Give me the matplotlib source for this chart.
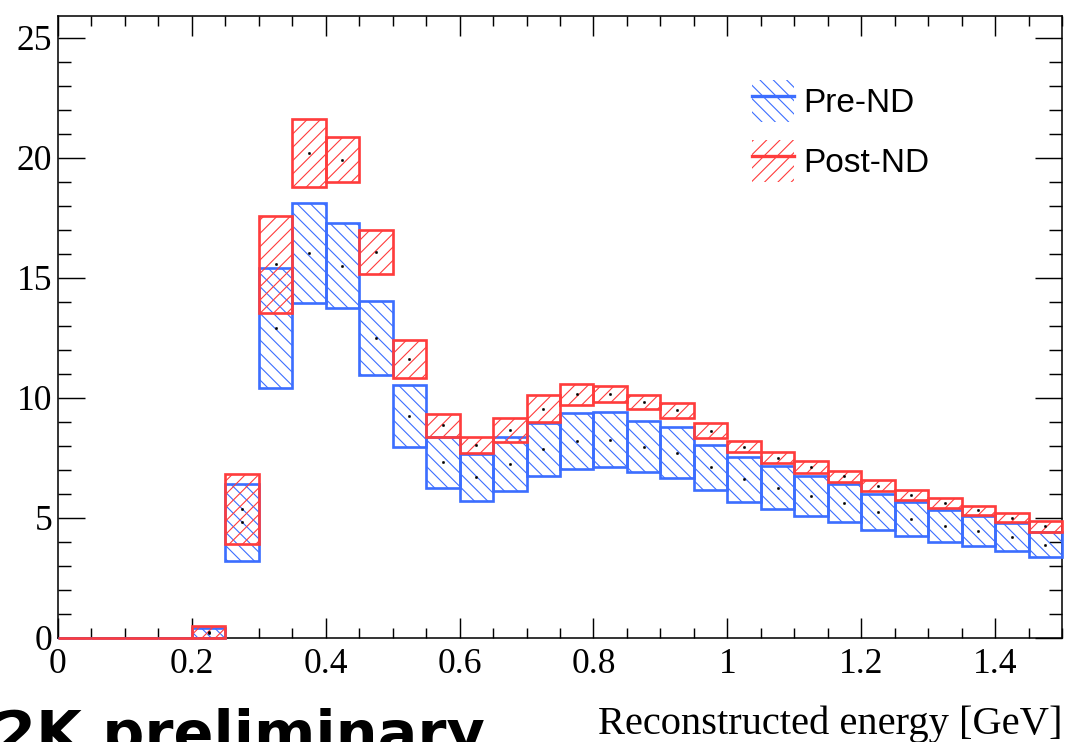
import numpy as np
import matplotlib

matplotlib.use("Agg")
import matplotlib.pyplot as plt
from matplotlib.patches import Patch
from matplotlib.lines import Line2D
from matplotlib.ticker import MultipleLocator, FuncFormatter

# 30 bins of 0.05 GeV between 0 and 1.5 GeV
bin_edges = np.linspace(0.0, 1.5, 31)

# error band of the prediction before the near detector fit (low / high edge)
pre_nd_low = [0, 0, 0, 0, 0, 3.21, 10.43, 13.93, 13.74, 10.96,
              7.97, 6.24, 5.72, 6.13, 6.74, 7.05, 7.11, 6.90, 6.65, 6.17,
              5.68, 5.36, 5.10, 4.81, 4.50, 4.26, 4.01, 3.85, 3.64, 3.36]
pre_nd_high = [0, 0, 0, 0, 0.40, 6.42, 15.40, 18.13, 17.28, 14.05,
               10.54, 8.39, 7.67, 8.36, 8.96, 9.36, 9.40, 9.04, 8.78, 8.04,
               7.53, 7.17, 6.75, 6.40, 6.00, 5.65, 5.33, 5.08, 4.78, 4.40]

# error band after the near detector fit
post_nd_low = [0, 0, 0, 0, 0, 3.90, 13.53, 18.80, 18.97, 15.15,
               10.82, 8.39, 7.69, 8.15, 8.99, 9.71, 9.81, 9.53, 9.18, 8.33,
               7.75, 7.28, 6.86, 6.51, 6.13, 5.75, 5.40, 5.13, 4.81, 4.43]
post_nd_high = [0, 0, 0, 0, 0.51, 6.81, 17.58, 21.63, 20.85, 17.00,
                12.42, 9.33, 8.39, 9.17, 10.12, 10.57, 10.50, 10.10, 9.78, 8.94,
                8.19, 7.74, 7.35, 6.96, 6.56, 6.17, 5.82, 5.50, 5.19, 4.89]

labels = ["Pre-ND", "Post-ND"]
colors = ["#3c6eff", "#ff3c3c"]
hatches = ["\\\\", "//"]

SERIF = ["Liberation Serif", "DejaVu Serif"]
SANS = ["Liberation Sans", "DejaVu Sans"]

plt.rcParams["hatch.linewidth"] = 1.0

fig = plt.figure(figsize=(1068 / 80, 742 / 80), dpi=80)
ax = fig.add_axes([58 / 1068, 1 - 638 / 742, 1004 / 1068, 622 / 742])

widths = np.diff(bin_edges)
centers = bin_edges[:-1] + widths / 2

series = [(pre_nd_low, pre_nd_high), (post_nd_low, post_nd_high)]
for (low, high), color, hatch in zip(series, colors, hatches):
    low = np.array(low)
    high = np.array(high)
    ax.bar(
        bin_edges[:-1],
        high - low,
        bottom=low,
        width=widths,
        align="edge",
        facecolor="none",
        edgecolor=color,
        hatch=hatch,
        linewidth=2.4,
        clip_on=False,
        zorder=2.6,
    )
    mask = high > 0
    ax.plot(
        centers[mask],
        ((low + high) / 2)[mask],
        linestyle="none",
        marker="s",
        markersize=1.3,
        color="black",
        zorder=3,
    )

ax.set_xlim(0, 1.5)
ax.set_ylim(0, 25.9)

ax.xaxis.set_major_locator(MultipleLocator(0.2))
ax.xaxis.set_minor_locator(MultipleLocator(0.05))
ax.yaxis.set_major_locator(MultipleLocator(5))
ax.yaxis.set_minor_locator(MultipleLocator(1))
ax.xaxis.set_major_formatter(FuncFormatter(lambda v, p: f"{v:g}"))

ax.tick_params(which="both", direction="in", top=True, right=True,
               width=1.3, colors="black")
ax.tick_params(axis="x", which="major", length=18, pad=9)
ax.tick_params(axis="x", which="minor", length=9)
ax.tick_params(axis="y", which="major", length=24, pad=5)
ax.tick_params(axis="y", which="minor", length=12)

for tick_label in ax.get_xticklabels() + ax.get_yticklabels():
    tick_label.set_family(SERIF)
    tick_label.set_fontsize(32)

for spine in ax.spines.values():
    spine.set_linewidth(1.4)

fig.text(
    1062 / 1068,
    (742 - 734) / 742,
    "Reconstructed energy [GeV]",
    ha="right",
    va="baseline",
    family=SERIF,
    fontsize=36.5,
)

fig.text(
    -45 / 1068,
    (742 - 753) / 742,
    "T2K preliminary",
    ha="left",
    va="baseline",
    family="DejaVu Sans",
    fontweight="bold",
    fontsize=53,
)

handles = []
for color, hatch in zip(colors, hatches):
    box = Patch(facecolor="none", edgecolor=color, linewidth=0, hatch=hatch)
    line = Line2D([], [], color=color, linewidth=3)
    handles.append((box, line))

ax.legend(
    handles,
    labels,
    loc="upper left",
    bbox_to_anchor=((752 - 58) / 1004, (638 - 80) / 622),
    frameon=False,
    borderpad=0,
    borderaxespad=0,
    handlelength=1.26,
    handleheight=1.56,
    handletextpad=0.27,
    labelspacing=0.53,
    prop={"family": SANS, "size": 30},
)

fig.savefig("out.png", dpi=80)
